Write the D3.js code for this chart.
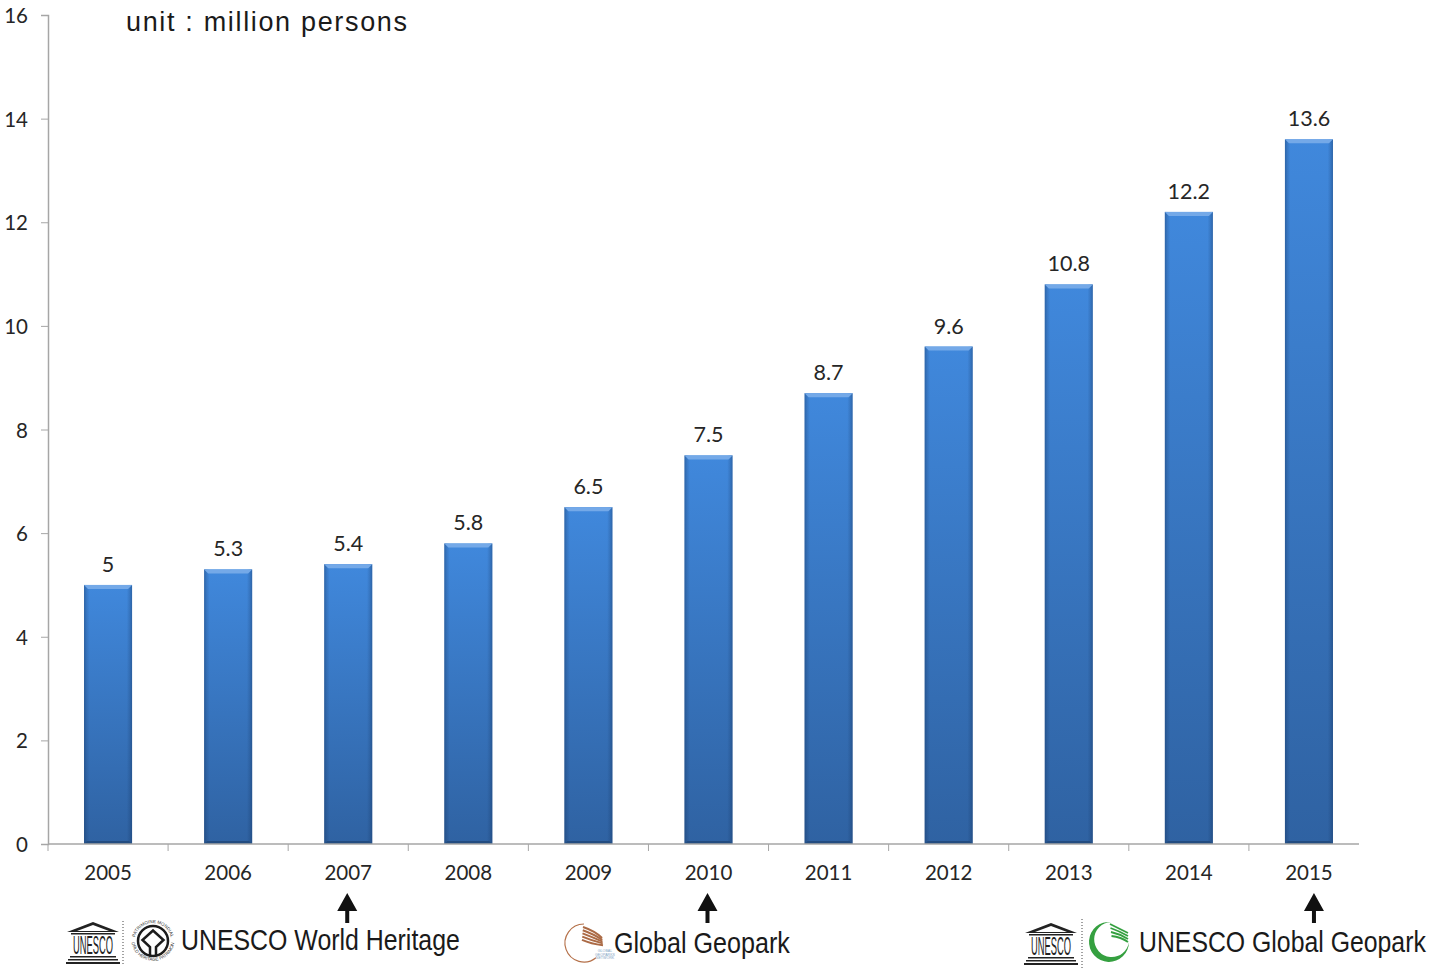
<!DOCTYPE html>
<html>
<head>
	<title>Visitors</title>
	<script src="https://d3js.org/d3.v7.min.js"></script>
	<style type="text/css">
		*
		{
			margin:0;
			padding:0;
		}
		body
		{
			background:#fff;
		}
		svg
		{
			display:block;
		}
		.tick-label
		{
			font-family:"Lato";
			font-size:20.5px;
			fill:#262626;
		}
		.note
		{
			font-family:"Liberation Sans";
			fill:#1a1a1a;
		}
		.name
		{
			font-family:"Liberation Sans";
			font-size:30px;
			fill:#1a1a1a;
		}
	</style>
</head>
<body>
	<div id="chart"></div>
	<script>
		const years = ["2005","2006","2007","2008","2009","2010","2011","2012","2013","2014","2015"];
		const visitors = [5, 5.3, 5.4, 5.8, 6.5, 7.5, 8.7, 9.6, 10.8, 12.2, 13.6];
		const yTicks = [0, 2, 4, 6, 8, 10, 12, 14, 16];
		const unitLabel = "unit : million persons";
		const milestoneYears = ["2007", "2010", "2015"];
		const milestoneNames = ["UNESCO World Heritage", "Global Geopark", "UNESCO Global Geopark"];

		const width = 1429;
		const height = 970;
		const axisColor = "#a6a6a6";

		const svg = d3.select("#chart").append("svg").attr("width", width).attr("height", height);
		const defs = svg.append("defs");

		// bar shading: vertical fade plus darker side edges
		const fade = defs.append("linearGradient").attr("id", "fade").attr("x1", 0).attr("y1", 0).attr("x2", 0).attr("y2", 1);
		fade.append("stop").attr("offset", "0%").attr("stop-color", "#4088dc");
		fade.append("stop").attr("offset", "100%").attr("stop-color", "#2f62a2");

		const edges = defs.append("linearGradient").attr("id", "edges");
		[[0, 0.4], [0.05, 0.18], [0.11, 0], [0.89, 0], [0.95, 0.18], [1, 0.4]].forEach(s => {
			edges.append("stop").attr("offset", s[0]).attr("stop-color", "#12305a").attr("stop-opacity", s[1]);
		});

		const xScale = d3.scaleBand().domain(years).range([48, 1369]).paddingInner(0.6).paddingOuter(0.3);
		const tickScale = d3.scaleBand().domain(years).range([48, 1369]);
		const yScale = d3.scaleLinear().domain([0, 16]).range([844, 15]);

		// bars
		const bars = svg.append("g").selectAll("g").data(visitors).enter().append("g");
		bars.append("rect")
			.attr("x", (d, i) => xScale(years[i]))
			.attr("y", d => yScale(d))
			.attr("width", xScale.bandwidth())
			.attr("height", d => yScale(0) - yScale(d))
			.attr("fill", "url(#fade)");
		bars.append("rect")
			.attr("x", (d, i) => xScale(years[i]))
			.attr("y", d => yScale(d))
			.attr("width", xScale.bandwidth())
			.attr("height", d => yScale(0) - yScale(d))
			.attr("fill", "url(#edges)");
		// light bevel along the top of each bar, dark one along the bottom
		bars.append("path")
			.attr("d", (d, i) => {
				const x0 = xScale(years[i]), x1 = x0 + xScale.bandwidth(), y = yScale(d);
				return "M" + x0 + "," + y + "H" + x1 + "L" + (x1 - 4) + "," + (y + 4) + "H" + (x0 + 4) + "Z";
			})
			.attr("fill", "#74a9e8");
		bars.append("path")
			.attr("d", (d, i) => {
				const x0 = xScale(years[i]), x1 = x0 + xScale.bandwidth(), y = yScale(0);
				return "M" + x0 + "," + y + "H" + x1 + "L" + (x1 - 3) + "," + (y - 3) + "H" + (x0 + 3) + "Z";
			})
			.attr("fill", "#234c80");
		bars.append("text")
			.attr("class", "tick-label")
			.attr("x", (d, i) => xScale(years[i]) + xScale.bandwidth() / 2)
			.attr("y", d => yScale(d) - 13)
			.attr("text-anchor", "middle")
			.style("font-size", "21.5px")
			.text(d => d);

		// axes
		const xAxis = d3.axisBottom(tickScale).tickSize(0).tickPadding(21);
		const yAxis = d3.axisLeft(yScale).tickValues(yTicks).tickSize(7).tickPadding(13);

		const xg = svg.append("g").attr("transform", "translate(0,844)").call(xAxis);
		xg.select(".domain").attr("d", "M48,0H1359").attr("stroke", axisColor).attr("stroke-width", 1.5);
		xg.selectAll("text").attr("class", "tick-label");
		xg.selectAll("line.sep").data(d3.range(years.length)).enter().append("line")
			.attr("class", "sep")
			.attr("x1", i => 48 + i * tickScale.step())
			.attr("x2", i => 48 + i * tickScale.step())
			.attr("y1", 0).attr("y2", 7)
			.attr("stroke", axisColor);

		const yg = svg.append("g").attr("transform", "translate(48,0)").call(yAxis);
		yg.select(".domain").attr("stroke", axisColor).attr("stroke-width", 1.5);
		yg.selectAll("line").attr("stroke", axisColor);
		yg.selectAll("text").attr("class", "tick-label").attr("y", 1);

		svg.append("text").attr("class", "note").attr("x", 126).attr("y", 31)
			.attr("textLength", 281).attr("lengthAdjust", "spacing")
			.style("font-size", "27px").text(unitLabel);

		// arrows under the milestone years (the last one sits right of its label)
		const arrowShift = [0, 0, 6];
		milestoneYears.forEach((y, i) => {
			const cx = tickScale(y) + tickScale.bandwidth() / 2 - 1 + arrowShift[i];
			svg.append("path")
				.attr("d", "M" + cx + ",893L" + (cx + 10) + ",911H" + (cx + 2) + "V923H" + (cx - 2) + "V911H" + (cx - 10) + "Z")
				.attr("fill", "#111");
		});

		// text squeezed sideways to a given width, there is no narrow font here
		function squeezed(parent, t, x, y, size, len) {
			const el = parent.append("text").style("font-family", "Liberation Sans").style("font-size", size + "px").text(t);
			const k = len / el.node().getComputedTextLength();
			el.attr("transform", "translate(" + x + "," + y + ") scale(" + k + ",1)");
			return el;
		}

		// small temple mark used in the UNESCO logos
		function temple(x, y) {
			const g = svg.append("g").attr("transform", "translate(" + x + "," + y + ")").attr("fill", "#222");
			g.append("path").attr("d", "M24,0L50,10H-2Z M24,3L8,9H40Z").attr("fill-rule", "evenodd");
			g.append("rect").attr("x", 2).attr("y", 11).attr("width", 44).attr("height", 1.5);
			squeezed(g, "UNESCO", 4, 32, 25, 40);
			g.append("rect").attr("x", 1).attr("y", 34).attr("width", 46).attr("height", 1.5);
			g.append("rect").attr("x", -1).attr("y", 37).attr("width", 50).attr("height", 1.5);
			g.append("rect").attr("x", -3).attr("y", 40).attr("width", 54).attr("height", 2);
		}

		function dottedRule(x, y0, y1) {
			svg.append("line").attr("x1", x).attr("x2", x).attr("y1", y0).attr("y2", y1)
				.attr("stroke", "#444").attr("stroke-dasharray", "1 2");
		}

		// world heritage logo
		temple(69, 922);
		dottedRule(123, 921, 965);
		const wh = svg.append("g").attr("transform", "translate(153,941)");
		defs.append("path").attr("id", "ringTop").attr("d", "M-18,-3A18.3,18.3 0 0,1 18,-3");
		defs.append("path").attr("id", "ringBottom").attr("d", "M-21,3A21.5,21.5 0 0,0 21,3");
		[["#ringTop", "PATRIMOINE MONDIAL"], ["#ringBottom", "WORLD HERITAGE PATRIMONIO"]].forEach(r => {
			wh.append("text").style("font-family", "Liberation Sans").style("font-size", "4.5px").attr("fill", "#333")
				.append("textPath").attr("href", r[0]).attr("startOffset", "50%").attr("text-anchor", "middle").text(r[1]);
		});
		wh.append("circle").attr("r", 15).attr("fill", "none").attr("stroke", "#1c1c1c").attr("stroke-width", 2.5);
		wh.append("path").attr("d", "M-3,14V6L-10.5,-1L0,-10.5L10.5,-1L3,6V14").attr("fill", "none").attr("stroke", "#1c1c1c").attr("stroke-width", 2.5);

		// global geopark network logo
		const gg = svg.append("g").attr("transform", "translate(584,943)");
		gg.append("path").attr("d", "M0,-19A19,19 0 1,0 12,14.7").attr("fill", "none").attr("stroke", "#b5714a").attr("stroke-width", 1.2);
		[0, 1, 2, 3, 4].forEach(i => {
			gg.append("path").attr("d", "M" + (-1 - i * 0.25) + "," + (-16 + i * 3.2) + "Q" + (11 - i) + "," + (-12 + i * 3.2) + " " + (18 + i * 0.25) + "," + (-5 + i * 1.8))
				.attr("fill", "none").attr("stroke", "#ab6a45").attr("stroke-width", 2);
		});
		["GLOBAL", "GEOPARKS", "NETWORK"].forEach((t, i) => {
			gg.append("text").attr("x", 21).attr("y", 9 + i * 3.7).attr("text-anchor", "middle")
				.style("font-family", "Liberation Sans").style("font-size", "3.6px").attr("fill", "#7fa3c4").text(t);
		});

		// unesco global geopark logo
		temple(1027, 923);
		dottedRule(1082, 919, 968);
		const ug = svg.append("g").attr("transform", "translate(1109,942)");
		ug.append("path").attr("d", "M2,-20A20,20 0 1,0 20,0A17.5,17.5 0 1,1 2,-20Z").attr("fill", "#35a040");
		[0, 1, 2, 3].forEach(i => {
			ug.append("path").attr("d", "M" + (1 + i * 0.5) + "," + (-18 + i * 4) + "Q" + (9 + i) + "," + (-14 + i * 3) + " " + 19 + "," + (-9 + i * 3))
				.attr("fill", "none").attr("stroke", "#35a040").attr("stroke-width", 1.8);
		});

		// milestone names
		const nameX = [181, 614, 1139];
		const nameLen = [279, 176, 287];
		const nameY = [950, 953, 952];
		milestoneNames.forEach((t, i) => {
			squeezed(svg, t, nameX[i], nameY[i], 30, nameLen[i]).attr("class", "name");
		});
	</script>
</body>
</html>
